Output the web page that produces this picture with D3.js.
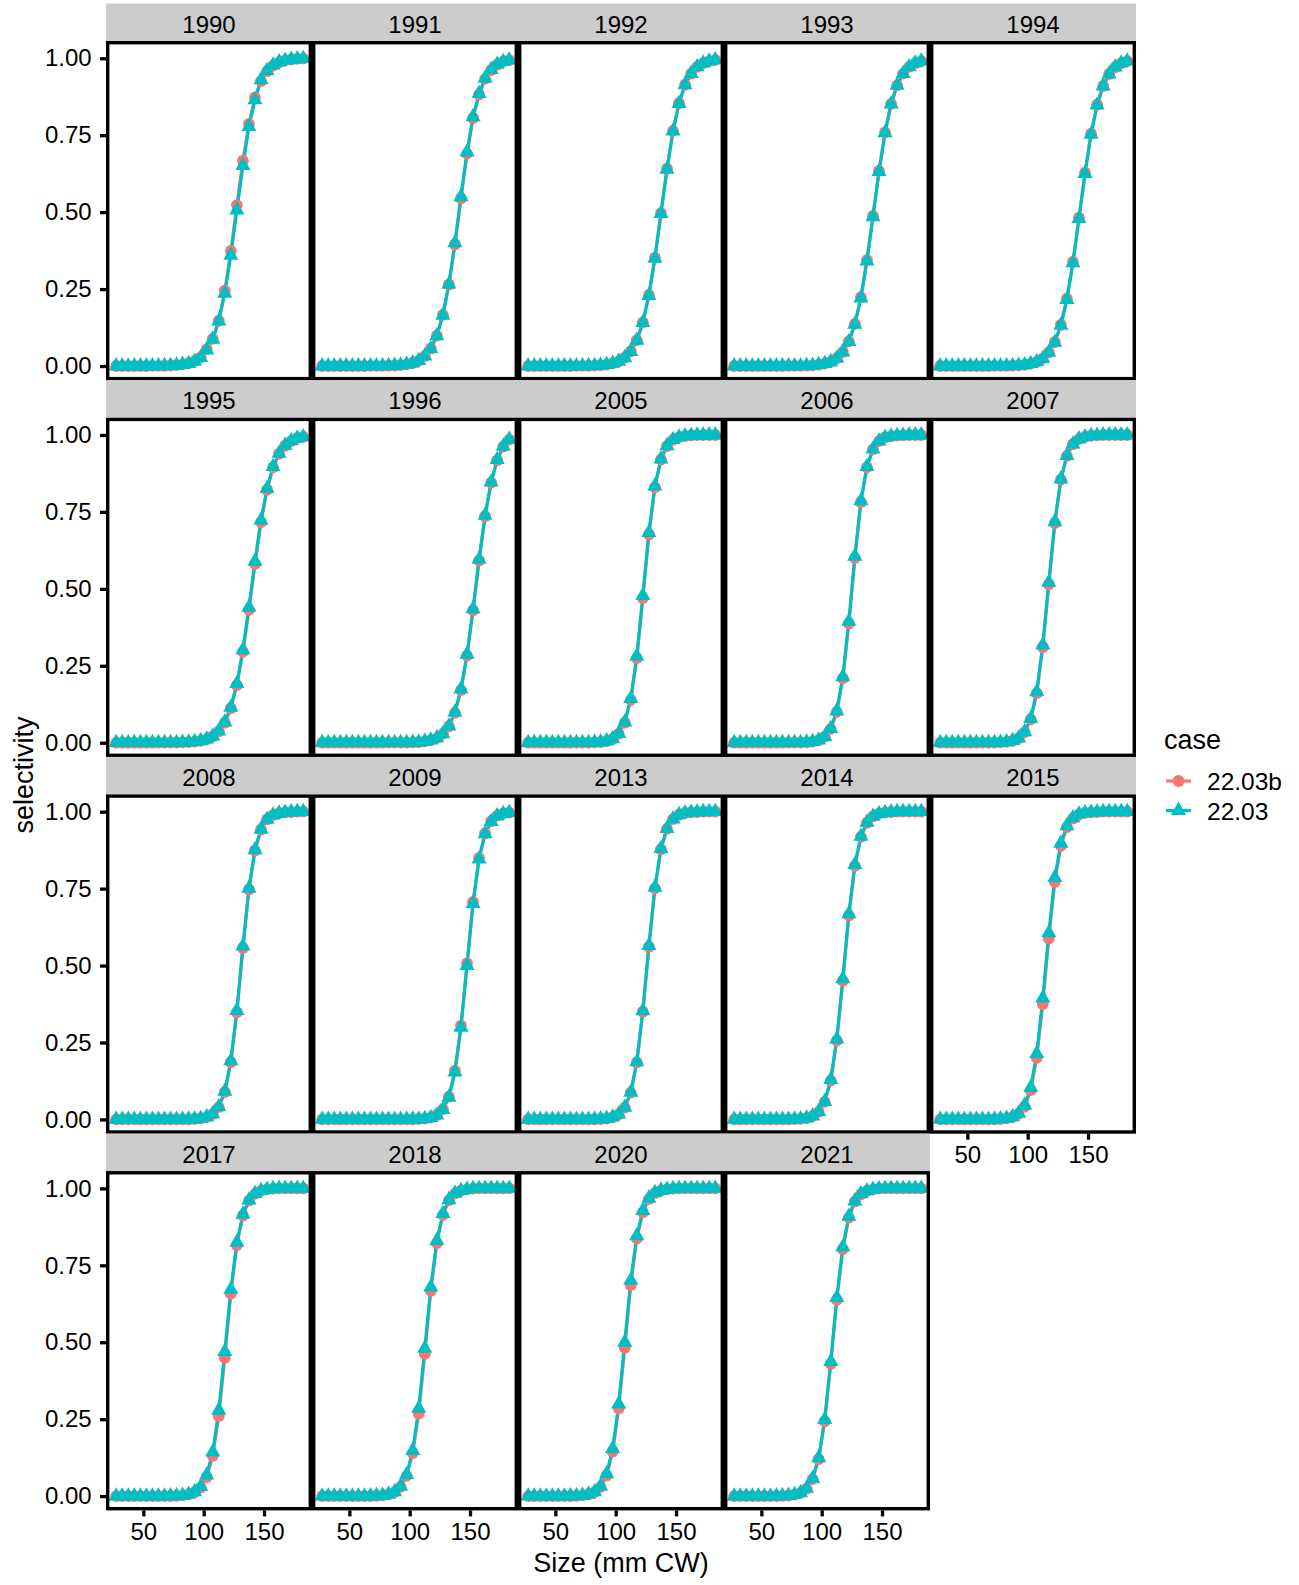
<!DOCTYPE html>
<html>
<head>
<meta charset="utf-8">
<script src="https://cdn.jsdelivr.net/npm/d3@7"></script>
<style>
  body { margin: 0; background: #ffffff; }
  svg { display: block; font-family: "Liberation Sans", Arial, Helvetica, sans-serif; }
</style>
</head>
<body>
<svg id="chart" width="1299" height="1585"></svg>
<script>
// ---------------- data ----------------
const years = ["1990","1991","1992","1993","1994","1995","1996","2005","2006","2007",
               "2008","2009","2013","2014","2015","2017","2018","2020","2021"];
const sizes = [27.5,32.5,37.5,42.5,47.5,52.5,57.5,62.5,67.5,72.5,77.5,82.5,87.5,92.5,97.5,102.5,
               107.5,112.5,117.5,122.5,127.5,132.5,137.5,142.5,147.5,152.5,157.5,162.5,167.5,172.5,177.5,182.5];
const caseNames = ["22.03b", "22.03"];
const caseColors = ["#F8766D", "#00BFC4"];
const xTickValues = [50, 100, 150];
const yTickValues = [0, 0.25, 0.5, 0.75, 1];

// selectivity, case 22.03b (one row per year, one value per size)
const sel_2203b = [
  [0,0,0,0,0,0.0001,0.0002,0.0004,0.0009,0.0016,0.003,0.0055,0.009,0.016,0.028,0.055,0.088,0.147,0.245,0.374,0.523,0.667,0.787,0.873,0.926,0.958,0.976,0.987,0.993,0.996,0.998,0.999],
  [0,0,0,0,0,0,0,0.0001,0.0002,0.0003,0.0006,0.001,0.0016,0.003,0.0055,0.0099,0.0178,0.032,0.057,0.099,0.166,0.265,0.395,0.545,0.69,0.806,0.882,0.933,0.962,0.979,0.989,0.994],
  [0,0,0,0,0,0,0,0.0001,0.0002,0.0004,0.0008,0.0014,0.0025,0.0046,0.0084,0.015,0.027,0.048,0.084,0.142,0.231,0.352,0.497,0.641,0.764,0.854,0.914,0.95,0.972,0.984,0.991,0.995],
  [0,0,0,0,0,0,0,0,0.0001,0.0002,0.0004,0.0007,0.0013,0.0023,0.0042,0.0078,0.014,0.0252,0.0455,0.08,0.137,0.224,0.344,0.488,0.634,0.759,0.852,0.912,0.95,0.972,0.984,0.991],
  [0,0,0,0,0,0,0,0,0.0001,0.0002,0.0004,0.0007,0.0012,0.002,0.004,0.0076,0.0136,0.0243,0.0445,0.078,0.134,0.219,0.338,0.482,0.628,0.755,0.849,0.91,0.949,0.971,0.984,0.991],
  [0,0,0,0,0,0,0,0.0001,0.0002,0.0003,0.0006,0.0011,0.0019,0.0034,0.0062,0.0113,0.0205,0.037,0.065,0.112,0.187,0.295,0.432,0.581,0.717,0.822,0.895,0.939,0.965,0.98,0.99,0.994],
  [0,0,0,0,0,0,0,0,0,0,0,0.0001,0.0002,0.0003,0.0006,0.0012,0.0022,0.0041,0.008,0.0151,0.0285,0.053,0.097,0.171,0.283,0.43,0.592,0.736,0.845,0.918,0.962,0.985],
  [0,0,0,0,0,0,0,0,0.0001,0.0002,0.0004,0.001,0.0023,0.0053,0.0125,0.029,0.065,0.139,0.275,0.47,0.677,0.83,0.92,0.964,0.984,0.993,0.997,0.999,0.9995,1,1,1],
  [0,0,0,0,0,0,0,0,0,0.0001,0.0003,0.0006,0.0015,0.0035,0.0083,0.0195,0.045,0.1,0.209,0.387,0.6,0.782,0.895,0.953,0.98,0.992,0.996,0.998,0.999,1,1,1],
  [0,0,0,0,0,0,0,0.0001,0.0002,0.0005,0.0011,0.0027,0.0064,0.0146,0.034,0.076,0.161,0.311,0.515,0.714,0.855,0.932,0.97,0.987,0.994,0.998,0.999,1,1,1,1,1],
  [0,0,0,0,0,0,0,0,0,0,0.0001,0.0003,0.0006,0.0014,0.0032,0.0076,0.0175,0.04,0.089,0.186,0.348,0.557,0.747,0.874,0.942,0.975,0.989,0.995,0.998,0.999,1,1],
  [0,0,0,0,0,0,0,0,0,0,0,0,0,0.0001,0.0002,0.0005,0.0011,0.0026,0.0061,0.0143,0.033,0.074,0.158,0.305,0.507,0.707,0.85,0.93,0.969,0.987,0.994,0.997],
  [0,0,0,0,0,0,0,0,0,0.0001,0.0002,0.0006,0.0013,0.003,0.0071,0.0168,0.0385,0.087,0.185,0.35,0.561,0.751,0.878,0.944,0.976,0.99,0.996,0.998,0.999,1,1,1],
  [0,0,0,0,0,0,0,0,0.0001,0.0003,0.0008,0.0019,0.0044,0.0106,0.0245,0.057,0.126,0.256,0.45,0.662,0.824,0.918,0.964,0.985,0.994,0.997,0.999,1,1,1,1,1],
  [0,0,0,0,0,0,0,0.0001,0.0003,0.0005,0.0013,0.0032,0.0078,0.018,0.042,0.095,0.2,0.375,0.588,0.772,0.889,0.95,0.978,0.991,0.996,0.998,0.999,1,1,1,1,1],
  [0,0,0,0,0,0,0,0.0001,0.0002,0.0004,0.001,0.0024,0.0055,0.0125,0.028,0.062,0.131,0.26,0.449,0.658,0.816,0.912,0.96,0.982,0.992,0.997,0.999,1,1,1,1,1],
  [0,0,0,0,0,0,0.0001,0.0002,0.0004,0.0011,0.0025,0.0057,0.013,0.03,0.066,0.14,0.268,0.462,0.667,0.822,0.914,0.961,0.983,0.993,0.997,0.999,1,1,1,1,1,1],
  [0,0,0,0,0,0.0001,0.0002,0.0004,0.001,0.0024,0.0056,0.013,0.03,0.067,0.145,0.285,0.482,0.686,0.837,0.922,0.965,0.985,0.993,0.997,0.999,1,1,1,1,1,1,1],
  [0,0,0,0,0,0.0001,0.0002,0.0004,0.0009,0.002,0.0046,0.0107,0.024,0.055,0.12,0.243,0.43,0.638,0.803,0.905,0.957,0.981,0.992,0.997,0.999,1,1,1,1,1,1,1]
];

// selectivity, case 22.03
const sel_2203 = [
  [0,0,0,0,0,0.0001,0.0002,0.0004,0.0008,0.0014,0.0025,0.005,0.008,0.015,0.027,0.052,0.087,0.146,0.236,0.36,0.507,0.651,0.778,0.865,0.93,0.96,0.978,0.988,0.993,0.996,0.998,0.999],
  [0,0,0,0,0,0,0,0.0001,0.0002,0.0003,0.0006,0.001,0.0016,0.003,0.0054,0.0098,0.0176,0.032,0.056,0.098,0.165,0.265,0.4,0.55,0.695,0.81,0.885,0.935,0.963,0.98,0.989,0.994],
  [0,0,0,0,0,0,0,0.0001,0.0002,0.0004,0.0008,0.0014,0.0025,0.0046,0.0083,0.0149,0.0268,0.047,0.083,0.141,0.229,0.35,0.495,0.639,0.763,0.853,0.914,0.95,0.972,0.984,0.991,0.995],
  [0,0,0,0,0,0,0,0,0.0001,0.0002,0.0004,0.0007,0.0013,0.0023,0.0042,0.0077,0.0139,0.025,0.045,0.079,0.135,0.221,0.341,0.485,0.632,0.758,0.851,0.912,0.95,0.972,0.984,0.991],
  [0,0,0,0,0,0,0,0,0.0001,0.0002,0.0004,0.0007,0.0012,0.002,0.004,0.0075,0.0135,0.024,0.044,0.077,0.132,0.216,0.335,0.479,0.625,0.753,0.848,0.91,0.949,0.971,0.984,0.991],
  [0,0,0,0,0,0,0,0.0001,0.0002,0.0003,0.0006,0.0011,0.0019,0.0035,0.0064,0.0117,0.021,0.038,0.067,0.115,0.192,0.302,0.44,0.589,0.723,0.826,0.897,0.94,0.966,0.981,0.99,0.994],
  [0,0,0,0,0,0,0,0,0,0,0,0.0001,0.0002,0.0003,0.0006,0.0012,0.0022,0.0042,0.0081,0.0154,0.029,0.054,0.099,0.174,0.287,0.435,0.596,0.739,0.847,0.92,0.963,0.986],
  [0,0,0,0,0,0,0,0,0.0001,0.0002,0.0004,0.001,0.0024,0.0055,0.0129,0.03,0.067,0.143,0.281,0.478,0.683,0.834,0.922,0.965,0.985,0.993,0.997,0.999,0.9995,1,1,1],
  [0,0,0,0,0,0,0,0,0,0.0001,0.0003,0.0006,0.0015,0.0036,0.0085,0.02,0.046,0.103,0.214,0.394,0.606,0.786,0.897,0.954,0.98,0.992,0.996,0.998,0.999,1,1,1],
  [0,0,0,0,0,0,0,0.0001,0.0002,0.0005,0.0012,0.0028,0.0066,0.015,0.035,0.078,0.165,0.317,0.521,0.718,0.857,0.933,0.97,0.987,0.994,0.998,0.999,1,1,1,1,1],
  [0,0,0,0,0,0,0,0,0,0,0.0001,0.0003,0.0006,0.0014,0.0033,0.0078,0.018,0.041,0.091,0.19,0.354,0.563,0.751,0.876,0.943,0.975,0.989,0.995,0.998,0.999,1,1],
  [0,0,0,0,0,0,0,0,0,0,0,0,0,0.0001,0.0002,0.0005,0.0011,0.0026,0.006,0.014,0.032,0.072,0.154,0.299,0.5,0.701,0.846,0.928,0.968,0.986,0.994,0.997],
  [0,0,0,0,0,0,0,0,0,0.0001,0.0002,0.0006,0.0013,0.003,0.0072,0.017,0.039,0.088,0.187,0.353,0.565,0.754,0.88,0.945,0.976,0.99,0.996,0.998,0.999,1,1,1],
  [0,0,0,0,0,0,0,0,0.0001,0.0003,0.0008,0.0019,0.0045,0.0108,0.025,0.058,0.129,0.261,0.457,0.668,0.828,0.92,0.965,0.985,0.994,0.997,0.999,1,1,1,1,1],
  [0,0,0,0,0,0,0,0.0001,0.0003,0.0006,0.0015,0.0036,0.0085,0.02,0.046,0.103,0.214,0.394,0.606,0.786,0.897,0.954,0.98,0.992,0.996,0.998,0.999,1,1,1,1,1],
  [0,0,0,0,0,0,0,0.0001,0.0002,0.0005,0.0011,0.0026,0.0059,0.0135,0.031,0.068,0.143,0.279,0.47,0.672,0.825,0.916,0.962,0.983,0.993,0.997,0.999,1,1,1,1,1],
  [0,0,0,0,0,0,0.0001,0.0002,0.0005,0.0012,0.0027,0.0061,0.014,0.032,0.07,0.148,0.285,0.48,0.679,0.83,0.918,0.963,0.984,0.993,0.997,0.999,1,1,1,1,1,1],
  [0,0,0,0,0,0.0001,0.0002,0.0005,0.0011,0.0026,0.006,0.014,0.032,0.072,0.154,0.299,0.5,0.701,0.846,0.928,0.968,0.986,0.994,0.997,0.999,1,1,1,1,1,1,1],
  [0,0,0,0,0,0.0001,0.0002,0.0004,0.0009,0.002,0.0047,0.011,0.025,0.057,0.124,0.249,0.437,0.645,0.809,0.909,0.959,0.982,0.992,0.997,0.999,1,1,1,1,1,1,1]
];

// ---------------- layout ----------------
const svg = d3.select("#chart");
const nCol = 5;
const colW = 206, left0 = 106;
const top0 = 41, rowStep = 376.7, boxH = 339.3, stripH = 37.5;
const borderW = 3.4;
const fontTick = 24, fontTitle = 27;

const xExt = d3.extent(sizes);
const xPad = (xExt[1] - xExt[0]) * 0.05;
const x = d3.scaleLinear().domain([xExt[0] - xPad, xExt[1] + xPad]).range([0.85, 206.6]);
const y = d3.scaleLinear().domain([-0.05, 1.05]).range([340.4, 1.9]);

const lineGen = d3.line().x(d => x(d.size)).y(d => y(d.sel));
const triPath = "M0,-8.9L7.6,4.4L-7.6,4.4Z";
const circR = 5.9;
const lineW = 3.2;
const series = [sel_2203b, sel_2203];

years.forEach((yr, i) => {
  const c = i % nCol, r = Math.floor(i / nCol);
  const g = svg.append("g").attr("transform", `translate(${left0 + c * colW},${top0 + r * rowStep})`);

  // strip
  g.append("rect").attr("x", 0).attr("y", -stripH).attr("width", colW).attr("height", stripH).attr("fill", "#CCCCCC");
  g.append("text").attr("x", colW / 2).attr("y", -stripH + 29.2).attr("text-anchor", "middle")
    .attr("font-size", fontTick).attr("fill", "#000").text(yr);

  // panel background + clip
  g.append("rect").attr("width", colW).attr("height", boxH).attr("fill", "#fff");
  const cid = "clip" + i;
  g.append("clipPath").attr("id", cid).append("rect").attr("width", colW).attr("height", boxH);
  const pg = g.append("g").attr("clip-path", `url(#${cid})`);

  const dataSets = series.map(s => sizes.map((sz, k) => ({ size: sz, sel: s[i][k] })));

  // lines
  dataSets.forEach((ds, si) => {
    pg.append("path").datum(ds).attr("d", lineGen).attr("fill", "none")
      .attr("stroke", caseColors[si]).attr("stroke-width", lineW).attr("stroke-linejoin", "round");
  });
  // points
  pg.selectAll("circle.p0").data(dataSets[0]).join("circle")
    .attr("cx", d => x(d.size)).attr("cy", d => y(d.sel)).attr("r", circR).attr("fill", caseColors[0]);
  pg.selectAll("path.p1").data(dataSets[1]).join("path").attr("class", "p1")
    .attr("transform", d => `translate(${x(d.size)},${y(d.sel)})`).attr("d", triPath).attr("fill", caseColors[1]);

  // border
  g.append("rect").attr("x", borderW / 2).attr("y", borderW / 2)
    .attr("width", colW - borderW).attr("height", boxH - borderW)
    .attr("fill", "none").attr("stroke", "#000").attr("stroke-width", borderW);

  // y axis on first column
  if (c === 0) {
    const ax = g.append("g").call(d3.axisLeft(y).tickValues(yTickValues).tickFormat(d3.format(".2f")).tickSize(6).tickPadding(8.3));
    ax.select(".domain").remove();
    ax.selectAll("line").attr("stroke", "#000").attr("stroke-width", 3.3);
    ax.selectAll("text").attr("font-size", fontTick).attr("fill", "#000");
    ax.attr("font-family", null);
  }
  // x axis where no panel below
  if (i + nCol >= years.length) {
    const ax = g.append("g").attr("transform", `translate(0,${boxH})`)
      .call(d3.axisBottom(x).tickValues(xTickValues).tickSize(6).tickPadding(6.5));
    ax.select(".domain").remove();
    ax.selectAll("line").attr("stroke", "#000").attr("stroke-width", 3.3);
    ax.selectAll("text").attr("font-size", fontTick).attr("fill", "#000");
    ax.attr("font-family", null);
  }
});

// axis titles
svg.append("text").attr("x", left0 + nCol * colW / 2).attr("y", 1572).attr("text-anchor", "middle")
  .attr("font-size", fontTitle).attr("fill", "#000").text("Size (mm CW)");
svg.append("text").attr("transform", "translate(33,775) rotate(-90)").attr("text-anchor", "middle")
  .attr("font-size", fontTitle).attr("fill", "#000").text("selectivity");

// legend
const lg = svg.append("g");
lg.append("text").attr("x", 1164).attr("y", 749).attr("font-size", fontTitle).attr("fill", "#000").text("case");
caseNames.forEach((nm, k) => {
  const cy = 781 + k * 29.5;
  lg.append("line").attr("x1", 1166).attr("x2", 1191).attr("y1", cy).attr("y2", cy)
    .attr("stroke", caseColors[k]).attr("stroke-width", lineW);
  if (k === 0) {
    lg.append("circle").attr("cx", 1178.5).attr("cy", cy).attr("r", circR).attr("fill", caseColors[k]);
  } else {
    lg.append("path").attr("transform", `translate(1178.5,${cy})`).attr("d", triPath).attr("fill", caseColors[k]);
  }
  lg.append("text").attr("x", 1207).attr("y", cy + 9).attr("font-size", 24.5).attr("fill", "#000").text(nm);
});
</script>
</body>
</html>
